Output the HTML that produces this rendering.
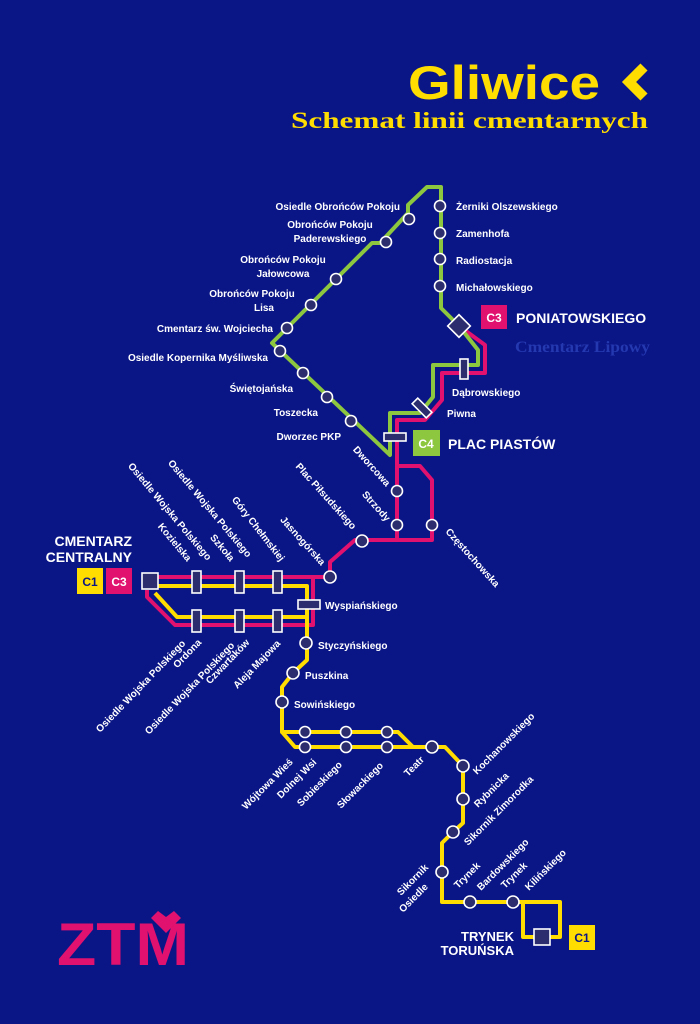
<!DOCTYPE html>
<html><head><meta charset="utf-8"><style>
html,body{margin:0;padding:0;background:#0b1686;}
svg{display:block}
text{font-family:"Liberation Sans",sans-serif;fill:#fff;font-weight:bold;}
.s{font-size:10px}
</style></head><body>
<svg width="700" height="1024" viewBox="0 0 700 1024" xmlns="http://www.w3.org/2000/svg">
<rect width="700" height="1024" fill="#0b1686"/>
<!-- Title -->
<text x="408" y="99" style="font-size:47px;fill:#ffdd00;font-weight:bold" textLength="192" lengthAdjust="spacingAndGlyphs">Gliwice</text>
<polyline points="644,67 629,82 644,97" fill="none" stroke="#ffdd00" stroke-width="10" stroke-linejoin="miter"/>
<text x="291" y="128" style="font-size:23px;fill:#ffdd00;font-family:'Liberation Serif',serif;font-weight:bold" textLength="357" lengthAdjust="spacingAndGlyphs">Schemat linii cmentarnych</text>

<g fill="none" stroke-width="4" stroke-linejoin="round">
<polyline stroke="#e0116f" points="459,326 485,345 485,373 442,373 442,400 425,420 397,420 397,540"/>
<polyline stroke="#e0116f" points="397,466 420,466 432,480 432,540 355,540 330,562 330,577 150,577"/>
<polyline stroke="#e0116f" points="313,577 313,625 175,625 147,597 147,590"/>
<polyline stroke="#ffdd00" points="150,586 307,586 307,660 293,673 282,687 282,732 398,732 413,747"/>
<polyline stroke="#ffdd00" points="155,593 177,617 307,617"/>
<polyline stroke="#ffdd00" points="282,732 295,747 445,747 463,766 463,823 453,832 442,843 442,902 523,902 523,937 543,937"/>
<polyline stroke="#ffdd00" points="523,902 560,902 560,937 548,937"/>
<polyline stroke="#8dc63f" points="459,326 441,308 441,187 427,187 408,205 408,213 380,243 372,243 272,343 390,455 390,413 420,413 433,397 433,365 478,365 478,350 459,326"/>
</g>

<g fill="#2b2d6e" stroke="#fff" stroke-width="1.6">
<circle cx="409" cy="219" r="5.5"/><circle cx="386" cy="242" r="5.5"/><circle cx="336" cy="279" r="5.5"/>
<circle cx="311" cy="305" r="5.5"/><circle cx="287" cy="328" r="5.5"/><circle cx="280" cy="351" r="5.5"/>
<circle cx="303" cy="373" r="5.5"/><circle cx="327" cy="397" r="5.5"/><circle cx="351" cy="421" r="5.5"/>
<circle cx="440" cy="206" r="5.5"/><circle cx="440" cy="233" r="5.5"/><circle cx="440" cy="259" r="5.5"/><circle cx="440" cy="286" r="5.5"/>
<rect x="451" y="318" width="16" height="16" transform="rotate(45 459 326)"/>
<rect x="460" y="359" width="8" height="20"/>
<rect x="418" y="398" width="8" height="20" transform="rotate(-45 422 408)"/>
<rect x="384" y="433" width="22" height="8"/>
<circle cx="397" cy="491" r="5.5"/><circle cx="397" cy="525" r="5.5"/><circle cx="432" cy="525" r="5.5"/>
<circle cx="362" cy="541" r="6"/><circle cx="330" cy="577" r="6"/>
<rect x="142" y="573" width="16" height="16"/>
<rect x="192" y="571" width="9" height="22"/><rect x="235" y="571" width="9" height="22"/><rect x="273" y="571" width="9" height="22"/>
<rect x="192" y="610" width="9" height="22"/><rect x="235" y="610" width="9" height="22"/><rect x="273" y="610" width="9" height="22"/>
<rect x="298" y="600" width="22" height="9"/>
<circle cx="306" cy="643" r="6"/><circle cx="293" cy="673" r="6"/><circle cx="282" cy="702" r="6"/>
<circle cx="305" cy="732" r="5.5"/><circle cx="346" cy="732" r="5.5"/><circle cx="387" cy="732" r="5.5"/>
<circle cx="305" cy="747" r="5.5"/><circle cx="346" cy="747" r="5.5"/><circle cx="387" cy="747" r="5.5"/>
<circle cx="432" cy="747" r="6"/><circle cx="463" cy="766" r="6"/><circle cx="463" cy="799" r="6"/>
<circle cx="453" cy="832" r="6"/><circle cx="442" cy="872" r="6"/><circle cx="470" cy="902" r="6"/><circle cx="513" cy="902" r="6"/>
<rect x="534" y="929" width="16" height="16"/>
</g>

<rect x="481" y="305" width="26" height="24" fill="#e0116f"/><text x="494" y="322" text-anchor="middle" style="font-size:12px">C3</text>
<text x="516" y="323" style="font-size:14px">PONIATOWSKIEGO</text>
<text x="515" y="352" style="font-size:16px;fill:#2438b0;font-family:'Liberation Serif',serif;font-weight:bold" textLength="135" lengthAdjust="spacingAndGlyphs">Cmentarz Lipowy</text>
<rect x="413" y="430" width="27" height="26" fill="#8dc63f"/><text x="426" y="448" text-anchor="middle" style="font-size:12px">C4</text>
<text x="448" y="449" style="font-size:14px">PLAC PIASTÓW</text>
<text x="132" y="546" text-anchor="end" style="font-size:14px">CMENTARZ</text>
<text x="132" y="562" text-anchor="end" style="font-size:14px">CENTRALNY</text>
<rect x="77" y="568" width="26" height="26" fill="#ffdd00"/><text x="90" y="586" text-anchor="middle" style="font-size:12px;fill:#0b1686">C1</text>
<rect x="106" y="568" width="26" height="26" fill="#e0116f"/><text x="119" y="586" text-anchor="middle" style="font-size:12px">C3</text>
<text x="514" y="941" text-anchor="end" style="font-size:13px">TRYNEK</text>
<text x="514" y="955" text-anchor="end" style="font-size:13px">TORUŃSKA</text>
<rect x="569" y="925" width="26" height="25" fill="#ffdd00"/><text x="582" y="942" text-anchor="middle" style="font-size:12px;fill:#0b1686">C1</text>

<g class="s">
<text x="400" y="210" text-anchor="end">Osiedle Obrońców Pokoju</text>
<text x="330" y="228" text-anchor="middle">Obrońców Pokoju</text><text x="330" y="242" text-anchor="middle">Paderewskiego</text>
<text x="283" y="263" text-anchor="middle">Obrońców Pokoju</text><text x="283" y="277" text-anchor="middle">Jałowcowa</text>
<text x="252" y="297" text-anchor="middle">Obrońców Pokoju</text><text x="264" y="311" text-anchor="middle">Lisa</text>
<text x="273" y="332" text-anchor="end">Cmentarz św. Wojciecha</text>
<text x="268" y="361" text-anchor="end">Osiedle Kopernika Myśliwska</text>
<text x="293" y="392" text-anchor="end">Świętojańska</text>
<text x="318" y="416" text-anchor="end">Toszecka</text>
<text x="341" y="440" text-anchor="end">Dworzec PKP</text>
<text x="456" y="210">Żerniki Olszewskiego</text>
<text x="456" y="237">Zamenhofa</text>
<text x="456" y="264">Radiostacja</text>
<text x="456" y="291">Michałowskiego</text>
<text x="452" y="396">Dąbrowskiego</text>
<text x="447" y="417">Piwna</text>
<text x="325" y="609">Wyspiańskiego</text>
<text x="318" y="649">Styczyńskiego</text>
<text x="305" y="679">Puszkina</text>
<text x="294" y="708">Sowińskiego</text>

<text text-anchor="end" transform="translate(386,487) rotate(48)">Dworcowa</text>
<text text-anchor="end" transform="translate(386,522) rotate(48)">Strzody</text>
<text text-anchor="end" transform="translate(352,530) rotate(48)">Plac Piłsudskiego</text>
<text text-anchor="end" transform="translate(321,566) rotate(48)">Jasnogórska</text>
<text transform="translate(445,532) rotate(48)">Częstochowska</text>
<text text-anchor="end" transform="translate(280,562) rotate(52)">Góry Chełmskiej</text>
<text text-anchor="end" transform="translate(247,558) rotate(50)">Osiedle Wojska Polskiego</text>
<text text-anchor="end" transform="translate(230,562) rotate(50)">Szkoła</text>
<text text-anchor="end" transform="translate(207,561) rotate(50)">Osiedle Wojska Polskiego</text>
<text text-anchor="end" transform="translate(187,562) rotate(50)">Kozielska</text>

<text text-anchor="end" transform="translate(202,643) rotate(-46)">Ordona</text>
<text text-anchor="end" transform="translate(186,644) rotate(-46)">Osiedle Wojska Polskiego</text>
<text text-anchor="end" transform="translate(250,643) rotate(-46)">Czwartaków</text>
<text text-anchor="end" transform="translate(235,646) rotate(-46)">Osiedle Wojska Polskiego</text>
<text text-anchor="end" transform="translate(281,644) rotate(-46)">Aleja Majowa</text>

<text transform="translate(246,810) rotate(-45)">Wójtowa Wieś</text>
<text transform="translate(281,799) rotate(-45)">Dolnej Wsi</text>
<text transform="translate(301,807) rotate(-45)">Sobieskiego</text>
<text transform="translate(341,809) rotate(-45)">Słowackiego</text>
<text transform="translate(408,777) rotate(-45)">Teatr</text>
<text transform="translate(477,775) rotate(-45)">Kochanowskiego</text>
<text transform="translate(478,808) rotate(-45)">Rybnicka</text>
<text transform="translate(468,846) rotate(-45)">Sikornik Zimorodka</text>
<text transform="translate(401,896) rotate(-45)">Sikornik</text>
<text transform="translate(403,913) rotate(-45)">Osiedle</text>
<text transform="translate(458,889) rotate(-45)">Trynek</text>
<text transform="translate(481,891) rotate(-45)">Bardowskiego</text>
<text transform="translate(505,889) rotate(-45)">Trynek</text>
<text transform="translate(529,891) rotate(-45)">Kilińskiego</text>
</g>

<text x="57" y="965" style="font-size:60px;fill:#e0116f;font-weight:bold" textLength="132" lengthAdjust="spacingAndGlyphs">ZTM</text>
<polygon points="151,918 158,911 166,917 174,911 181,918 166,933" fill="#e0116f"/>
</svg>
</body></html>
